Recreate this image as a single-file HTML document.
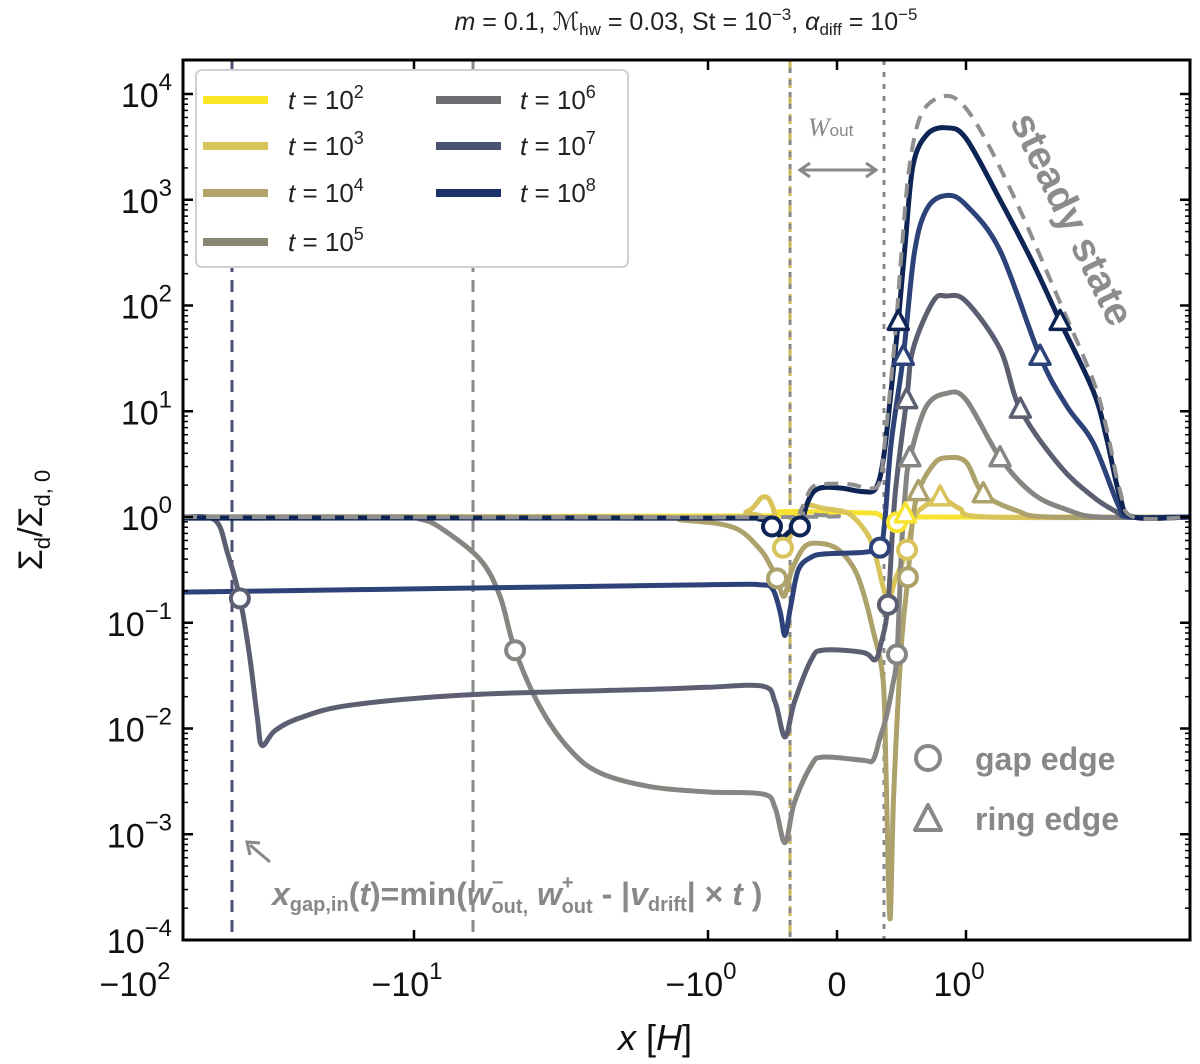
<!DOCTYPE html>
<html><head><meta charset="utf-8">
<style>
body{margin:0;background:#fff;}
svg{display:block;font-family:"Liberation Sans","DejaVu Sans",sans-serif;}
</style></head>
<body>
<svg id="chart" width="1200" height="1064" viewBox="0 0 1200 1064" xmlns="http://www.w3.org/2000/svg">
<rect x="0" y="0" width="1200" height="1064" fill="#fff"/>
<g id="title">
<text x="686" y="30" font-size="25" text-anchor="middle" fill="#222"><tspan font-style="italic">m</tspan> = 0.1,  <tspan font-style="italic">ℳ</tspan><tspan font-size="17" dy="5">hw</tspan><tspan dy="-5"> = 0.03,  St = 10</tspan><tspan font-size="17" dy="-10">−3</tspan><tspan dy="10">,  </tspan><tspan font-style="italic">α</tspan><tspan font-size="17" dy="5">diff</tspan><tspan dy="-5"> = 10</tspan><tspan font-size="17" dy="-10">−5</tspan></text>
</g>
<g id="vlines"></g>
<g id="curves"></g>
<g id="markers"></g>
<g id="axes"></g>
<g id="annot"></g>
</svg>
<script>
// ---- data ----
const yTickExps = [-4,-3,-2,-1,0,1,2,3,4];
const xTickVals = [-100,-10,-1,0,1];
const xTickLabels = ["−10","−10","−10","0","10"];
const xTickSups = ["2","1","0","","0"];
const seriesNames = ["t=1e2","t=1e3","t=1e4","t=1e5","t=1e6","t=1e7","t=1e8"];
const seriesColors = ["#f7e330","#d8c45a","#ada26b","#878581","#5b5f71","#2c4278","#0e2455"];
// x positions (units of H) and log10(Σd/Σd,0)
const x1e2 = [-61,-0.6,-0.45,0.2,0.33,0.4,0.465,0.55,0.7,5.8];
const l1e2 = [0,0.01,0.05,0.04,0.02,-0.07,-0.05,0.02,0,0];
const x1e3 = [-61,-1,-0.7,-0.574,-0.5,-0.419,-0.37,-0.3,-0.233,-0.1,0.078,0.2,0.279,0.357,0.4,0.45,0.543,0.6,0.7,0.8,0.95,1.2,5.8];
const l1e3 = [0,0,0.05,0.19,0.1,-0.29,-0.2,0,0.11,0.08,0.04,-0.1,-0.28,-0.66,-0.8,-0.6,-0.31,0,0.12,0.19,0.08,0,0];
const x1e4 = [-61,-2,-1.2,-0.8,-0.6,-0.52,-0.465,-0.41,-0.35,-0.25,-0.132,0,0.124,0.2,0.279,0.357,0.38,0.41,0.44,0.5,0.55,0.58,0.63,0.75,0.85,1.0,1.145,1.49,1.93,5.8];
const l1e4 = [0,0,-0.03,-0.1,-0.3,-0.45,-0.58,-0.75,-0.5,-0.28,-0.25,-0.3,-0.47,-0.7,-1.07,-1.54,-2.4,-3.8,-2.6,-1.2,-0.57,-0.1,0.24,0.5,0.56,0.52,0.22,0.06,0,0];
const x1e5 = [-61,-12,-9.55,-8.15,-5.97,-5.1,-4.53,-3.72,-2.95,-2.33,-1.57,-1,-0.574,-0.48,-0.403,-0.33,-0.2,-0.109,0.2,0.279,0.33,0.38,0.43,0.465,0.5,0.53,0.565,0.69,0.85,1.0,1.305,1.69,2.2,2.85,5.8];
const l1e5 = [0,0,-0.02,-0.1,-0.4,-0.75,-1.26,-1.8,-2.2,-2.42,-2.55,-2.6,-2.62,-2.75,-3.08,-2.7,-2.35,-2.27,-2.3,-2.3,-2.1,-1.9,-1.6,-1.3,-0.3,0.25,0.56,1.04,1.17,1.11,0.56,0.22,0.07,0,0];
const x1e6 = [-61,-47.5,-43,-39.1,-36.3,-34.1,-32.9,-29.7,-24.4,-16.5,-6.45,-1.57,-1,-0.574,-0.48,-0.403,-0.33,-0.2,-0.109,0.2,0.295,0.34,0.395,0.45,0.54,0.59,0.746,0.85,1.0,1.305,1.53,2.09,2.71,3.2,3.6,5.8];
const l1e6 = [0,-0.03,-0.35,-0.77,-1.3,-1.9,-2.16,-2.02,-1.9,-1.78,-1.68,-1.63,-1.61,-1.6,-1.75,-2.08,-1.75,-1.35,-1.26,-1.28,-1.35,-1.2,-0.83,0.2,1.11,1.59,2.04,2.09,2.04,1.59,1.02,0.48,0.19,0.06,0,0];
const x1e7 = [-61,-10,-1,-0.6,-0.5,-0.44,-0.403,-0.36,-0.3,-0.2,-0.1,0.1,0.233,0.333,0.37,0.42,0.514,0.6,0.7,0.85,1.0,1.305,1.785,2.2,2.71,3.3,3.6,5.8];
const l1e7 = [-0.71,-0.68,-0.64,-0.64,-0.68,-0.9,-1.12,-0.85,-0.5,-0.38,-0.35,-0.34,-0.33,-0.29,-0.05,0.7,1.52,2.5,2.92,3.04,2.95,2.52,1.52,1.05,0.7,0.11,0,0];
const x1e8 = [-61,-1,-0.6,-0.504,-0.45,-0.42,-0.35,-0.287,-0.233,-0.18,-0.1,0.05,0.2,0.3,0.36,0.42,0.475,0.53,0.59,0.7,0.85,1.0,1.305,1.69,2.09,2.71,3.01,3.34,3.7,5.8];
const l1e8 = [-0.01,-0.01,-0.02,-0.09,-0.17,-0.19,-0.12,-0.09,0.12,0.24,0.28,0.27,0.24,0.27,0.55,1.2,1.85,2.6,3.33,3.62,3.68,3.58,3.0,2.4,1.85,1.19,0.74,0.19,0,0];
const xSteady = [-61,-0.35,-0.287,-0.2,-0.1,0.1,0.25,0.33,0.37,0.45,0.5,0.56,0.65,0.8,0.95,1.15,1.5,2.0,2.7,3.0,3.34,3.7,5.8];
const lSteady = [0,0,0.05,0.27,0.31,0.31,0.27,0.33,0.7,1.7,2.5,3.3,3.8,3.97,3.93,3.6,2.95,2.15,1.3,0.85,0.25,0,0];
// gap-edge circles and ring-edge triangles per series
const gapX = [[0.465],[-0.419,0.543],[-0.465,0.55],[-4.53,0.465],[-39.1,0.395],[0.333],[-0.504,-0.287]];
const gapL = [[-0.05],[-0.29,-0.31],[-0.58,-0.57],[-1.26,-1.3],[-0.77,-0.83],[-0.29],[-0.09,-0.09]];
const ringX = [[0.53],[0.8],[0.63,1.145],[0.565,1.305],[0.54,1.53],[0.514,1.785],[0.475,2.09]];
const ringL = [[0.03],[0.19],[0.24,0.22],[0.56,0.56],[1.11,1.02],[1.52,1.52],[1.85,1.85]];
const vlineX = [-41.6,-6.3,-0.364,0.364];

// ---- axes functions ----
const L=183,R=1190,T=60,B=940;
function X(x){const a=Math.abs(x);if(a<=1)return 837+129*x;const s=Math.sign(x);return 837+s*(129+294*Math.log10(a));}
function Y(l){return 517-105.75*l;}
const NS="http://www.w3.org/2000/svg";
function mk(tag,attrs,parent){const e=document.createElementNS(NS,tag);for(const k in attrs)e.setAttribute(k,attrs[k]);parent.appendChild(e);return e;}
function smooth(pts){let d=`M${pts[0][0].toFixed(1)},${pts[0][1].toFixed(1)}`;
 for(let i=0;i<pts.length-1;i++){const p0=pts[i-1]||pts[i],p1=pts[i],p2=pts[i+1],p3=pts[i+2]||p2;
  const c1=[p1[0]+(p2[0]-p0[0])/6,p1[1]+(p2[1]-p0[1])/6],c2=[p2[0]-(p3[0]-p1[0])/6,p2[1]-(p3[1]-p1[1])/6];
  d+=`C${c1[0].toFixed(1)},${c1[1].toFixed(1)} ${c2[0].toFixed(1)},${c2[1].toFixed(1)} ${p2[0].toFixed(1)},${p2[1].toFixed(1)}`;}
 return d;}
const svg=document.getElementById('chart');
const clip=mk('clipPath',{id:'plotclip'},svg);mk('rect',{x:L,y:T,width:R-L,height:B-T},clip);

// vertical lines
const vg=document.getElementById('vlines');vg.setAttribute('clip-path','url(#plotclip)');
const vStyles=[["#4a5272","12,8"],["#8a8a8a","12,8"],["#c9b85a","10,8"],["#888","5,7"]];
vlineX.forEach((v,i)=>{const ln=mk('line',{x1:X(v),x2:X(v),y1:T,y2:B,stroke:vStyles[i][0],'stroke-width':3,'stroke-dasharray':vStyles[i][1]},vg);
 
 });
{const ln=mk('line',{x1:X(-0.364),x2:X(-0.364),y1:T,y2:B,stroke:'#888','stroke-width':3,'stroke-dasharray':'5,7','stroke-dashoffset':'4'},vg);
 
 }

// curves
const cg=document.getElementById('curves');cg.setAttribute('clip-path','url(#plotclip)');
const XS=[x1e2,x1e3,x1e4,x1e5,x1e6,x1e7,x1e8],LS=[l1e2,l1e3,l1e4,l1e5,l1e6,l1e7,l1e8];
for(let s=0;s<7;s++){const pts=XS[s].map((x,i)=>[X(x),Y(LS[s][i])]);
 const p=mk('path',{d:smooth(pts),fill:'none',stroke:seriesColors[s],'stroke-width':5,'stroke-linejoin':'round','stroke-linecap':'round'},cg);
 
 }
{const pts=xSteady.map((x,i)=>[X(x),Y(lSteady[i])]);
 const p=mk('path',{d:smooth(pts),fill:'none',stroke:'#8f8f8f','stroke-width':4,'stroke-dasharray':'14,9'},cg);
 
 }

// markers
const mg=document.getElementById('markers');
for(let s=0;s<7;s++){
 gapX[s].forEach((x,i)=>{const c=mk('circle',{cx:X(x),cy:Y(gapL[s][i]),r:9,fill:'#fff',stroke:seriesColors[s],'stroke-width':4},mg);
  
  });
 ringX[s].forEach((x,i)=>{const cx=X(x),cy=Y(ringL[s][i]);
  const t=mk('polygon',{points:`${cx},${cy-11} ${cx-10},${cy+8} ${cx+10},${cy+8}`,fill:'#fff',stroke:seriesColors[s],'stroke-width':3.5,'stroke-linejoin':'round'},mg);
  
  });
}

// axes
const ag=document.getElementById('axes');
{const f=mk('rect',{x:L,y:T,width:R-L,height:B-T,fill:'none',stroke:'#000','stroke-width':3},ag);
 
 }
yTickExps.forEach(e=>{const y=Y(e);
 mk('line',{x1:L,x2:L+10,y1:y,y2:y,stroke:'#000','stroke-width':2.5},ag);
 mk('line',{x1:R,x2:R-10,y1:y,y2:y,stroke:'#000','stroke-width':2.5},ag);
 if(e<4){for(let m=2;m<=9;m++){const ym=Y(e+Math.log10(m));if(ym<T)continue;
  mk('line',{x1:L,x2:L+5,y1:ym,y2:ym,stroke:'#000','stroke-width':1.5},ag);
  mk('line',{x1:R,x2:R-5,y1:ym,y2:ym,stroke:'#000','stroke-width':1.5},ag);}}
 const t=mk('text',{x:172,y:y+13,'font-size':34,'text-anchor':'end',fill:'#111'},ag);
 
 
 const a=mk('tspan',{},t);a.textContent='10';
 const sp=mk('tspan',{'font-size':24,dy:-17},t);sp.textContent=(e<0?'−':'')+Math.abs(e);
});
xTickVals.forEach((v,i)=>{const x=X(v);
 if(x>=L-1){mk('line',{x1:x,x2:x,y1:B,y2:B-10,stroke:'#000','stroke-width':2.5},ag);
 mk('line',{x1:x,x2:x,y1:T,y2:T+10,stroke:'#000','stroke-width':2.5},ag);}
 const t=mk('text',{x:x+(xTickSups[i]?-7:0)+(i===0?22:0),y:996,'font-size':34,'text-anchor':'middle',fill:'#111'},ag);
 
 
 t.textContent=xTickLabels[i];
 if(xTickSups[i]){const sp=mk('tspan',{'font-size':24,dy:-17},t);sp.textContent=xTickSups[i];}
});
</script>
<script>
const an=document.getElementById('annot');
an.innerHTML=`
<text x="655" y="1050" font-size="36" text-anchor="middle" fill="#111"><tspan font-style="italic">x</tspan> [<tspan font-style="italic">H</tspan>]</text>
<text transform="translate(42,520) rotate(-90)" font-size="34" text-anchor="middle" fill="#111">Σ<tspan font-size="22" dy="8">d</tspan><tspan dy="-8">/Σ</tspan><tspan font-size="22" dy="8">d, 0</tspan></text>
<g>
<rect x="196" y="70" width="432" height="197" rx="6" fill="#fff" stroke="#d0d0d0" stroke-width="2"/>
<line x1="203" x2="268" y1="100" y2="100" stroke="#fae526" stroke-width="8"/>
<line x1="203" x2="268" y1="146" y2="146" stroke="#d8c35a" stroke-width="8"/>
<line x1="203" x2="268" y1="193" y2="193" stroke="#b0a46a" stroke-width="8"/>
<line x1="203" x2="268" y1="242" y2="242" stroke="#8b8672" stroke-width="8"/>
<line x1="436" x2="501" y1="100" y2="100" stroke="#6e6e72" stroke-width="8"/>
<line x1="436" x2="501" y1="146" y2="146" stroke="#4a5272" stroke-width="8"/>
<line x1="436" x2="501" y1="193" y2="193" stroke="#1c3369" stroke-width="8"/>
<g font-size="26" fill="#222">
<text x="288" y="109"><tspan font-style="italic">t</tspan> = 10<tspan font-size="18" dy="-11">2</tspan></text>
<text x="288" y="155"><tspan font-style="italic">t</tspan> = 10<tspan font-size="18" dy="-11">3</tspan></text>
<text x="288" y="202"><tspan font-style="italic">t</tspan> = 10<tspan font-size="18" dy="-11">4</tspan></text>
<text x="288" y="251"><tspan font-style="italic">t</tspan> = 10<tspan font-size="18" dy="-11">5</tspan></text>
<text x="520" y="109"><tspan font-style="italic">t</tspan> = 10<tspan font-size="18" dy="-11">6</tspan></text>
<text x="520" y="155"><tspan font-style="italic">t</tspan> = 10<tspan font-size="18" dy="-11">7</tspan></text>
<text x="520" y="202"><tspan font-style="italic">t</tspan> = 10<tspan font-size="18" dy="-11">8</tspan></text>
</g></g>
<text x="808" y="136" font-size="26" font-style="italic" font-family="Liberation Serif, serif" fill="#888">W<tspan font-size="17" font-style="normal" font-family="Liberation Sans, sans-serif">out</tspan></text>
<g stroke="#888" stroke-width="3" fill="none">
<line x1="800" x2="876" y1="170" y2="170"/><polyline points="810,163 800,170 810,177"/><polyline points="866,163 876,170 866,177"/></g>
<text transform="translate(1060,225) rotate(64)" font-size="40" font-weight="bold" text-anchor="middle" fill="#8c8c8c">steady state</text>
<g fill="#888" font-size="32" font-weight="bold">
<circle cx="928" cy="758" r="12" fill="#fff" stroke="#888" stroke-width="4"/>
<text x="975" y="770">gap edge</text>
<polygon points="928,805 915,830 941,830" fill="#fff" stroke="#888" stroke-width="4" stroke-linejoin="round"/>
<text x="975" y="830">ring edge</text></g>
<g fill="#888" font-weight="bold">
<line x1="270" y1="862" x2="250" y2="845" stroke="#888" stroke-width="3"/><polyline points="250,855 247,842 260,843" stroke="#888" stroke-width="3" fill="none"/>
<text x="272" y="905" font-size="32" fill="#888"><tspan font-style="italic">x</tspan><tspan font-size="20" dy="6">gap,in</tspan><tspan dy="-6">(</tspan><tspan font-style="italic">t</tspan>)=min(<tspan font-style="italic">w</tspan><tspan font-size="20" dy="-16">−</tspan><tspan font-size="20" dx="-12" dy="24">out,</tspan><tspan dy="-8"> </tspan><tspan font-style="italic">w</tspan><tspan font-size="20" dy="-16">+</tspan><tspan font-size="20" dx="-12" dy="24">out</tspan><tspan dy="-8"> - |</tspan><tspan font-style="italic">v</tspan><tspan font-size="20" dy="6">drift</tspan><tspan dy="-6">| × </tspan><tspan font-style="italic">t</tspan> )</text></g>`;
</script>
</body></html>
